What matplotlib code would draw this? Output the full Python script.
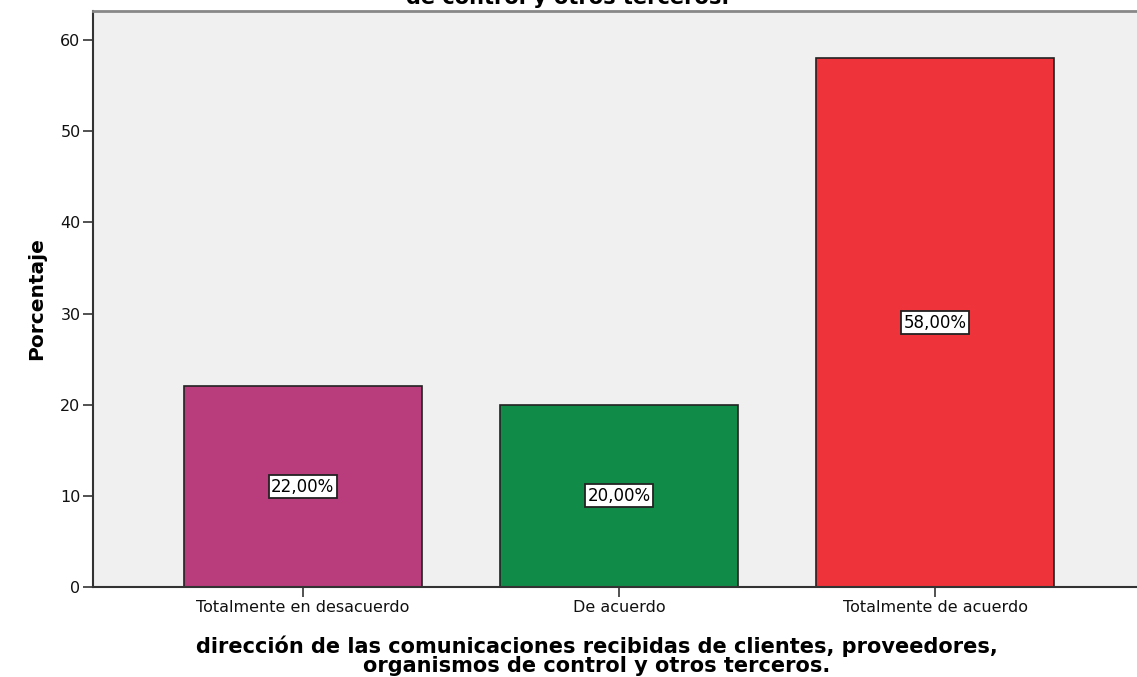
import matplotlib.pyplot as plt
import numpy as np

# --- data ---
categories = ['Totalmente en desacuerdo', 'De acuerdo', 'Totalmente de acuerdo']
percentages = [22.0, 20.0, 58.0]
bar_colors = ['#B93D7C', '#118B48', '#EF333A']
y_ticks = [0, 10, 20, 30, 40, 50, 60]

title_tail = 'de control y otros terceros.'
x_title = ('dirección de las comunicaciones recibidas de clientes, proveedores,\n'
           'organismos de control y otros terceros.')
y_title = 'Porcentaje'

W, H = 1137, 677
fig = plt.figure(figsize=(W / 100, H / 100), dpi=100)
fig.patch.set_facecolor('white')

# plot area: left edge at x=93, runs past the right edge of the picture
left, right, top, bottom = 93, 1148, 11, 587
ax = fig.add_axes([left / W, 1 - bottom / H, (right - left) / W, (bottom - top) / H])
ax.set_facecolor('#F0F0F0')

x = np.arange(len(categories))
bars = ax.bar(x, percentages, width=0.752, color=bar_colors,
              edgecolor='#222222', linewidth=1.2, zorder=2)

for rect, val in zip(bars, percentages):
    ax.text(rect.get_x() + rect.get_width() / 2, val / 2,
            '{:.2f}%'.format(val).replace('.', ','),
            ha='center', va='center', fontsize=12, family='DejaVu Sans',
            bbox=dict(boxstyle='square,pad=0.15', facecolor='white',
                      edgecolor='#222222', linewidth=1.3), zorder=3)

ax.set_xlim(-0.663, 2.672)
ax.set_ylim(0, 63.2)
ax.set_yticks(y_ticks)
ax.set_xticks(x)
ax.set_xticklabels(categories)
ax.tick_params(axis='both', labelsize=11.5, length=7, width=1.2, color='#333333',
               labelcolor='#111111')
ax.tick_params(axis='y', pad=2)
ax.tick_params(axis='x', pad=2)
for lab in ax.get_xticklabels() + ax.get_yticklabels():
    lab.set_family('DejaVu Sans')

for side in ['left', 'bottom']:
    ax.spines[side].set_color('#333333')
    ax.spines[side].set_linewidth(1.5)
ax.spines['top'].set_color('#888888')
ax.spines['top'].set_linewidth(2)
ax.spines['right'].set_visible(False)

ax.set_ylabel(y_title, fontsize=14.5, fontweight='bold', family='DejaVu Sans',
              labelpad=10)

fig.text(597 / W, 1 - 676 / H, x_title, ha='center', va='bottom',
         fontsize=15, fontweight='bold', family='DejaVu Sans', linespacing=0.92)

# title mostly cut off at the top of the picture, as in the reference
fig.text(568 / W, 1 - 4 / H, title_tail, ha='center', va='baseline',
         fontsize=15, fontweight='bold', family='DejaVu Sans')

plt.savefig('out.png', dpi=100)
